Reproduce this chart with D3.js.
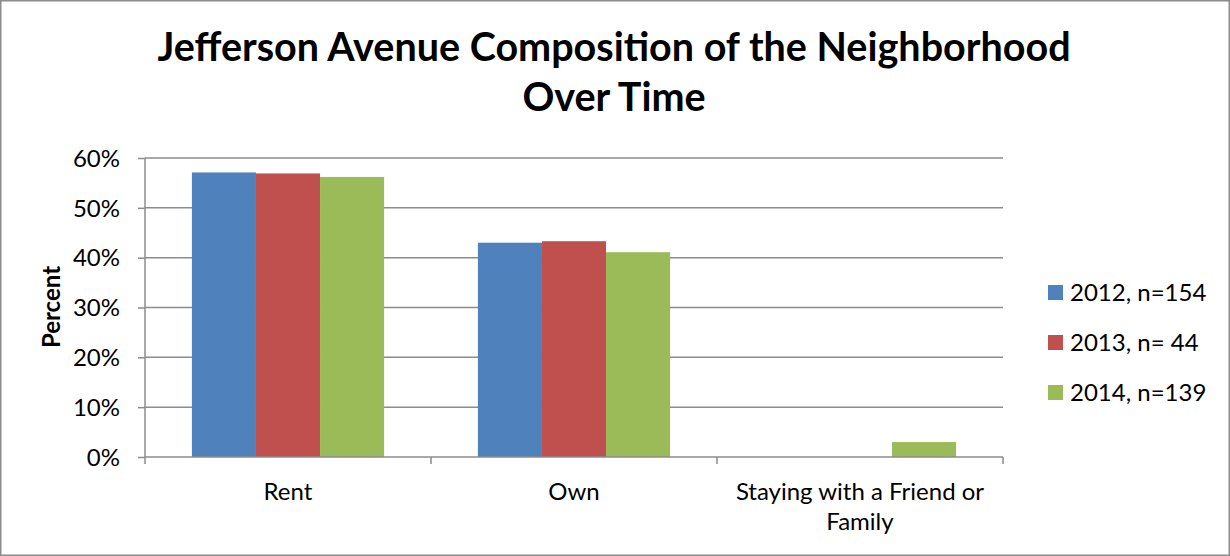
<!DOCTYPE html>
<html><head><meta charset="utf-8">
<script src="https://cdn.jsdelivr.net/npm/d3@7"></script>
<style>body{margin:0;background:#fff;} svg{display:block;font-family:Lato,"Open Sans",sans-serif;}</style>
</head><body>
<svg id="c" width="1230" height="556"></svg>
<script>
const categories = ["Rent", "Own", "Staying with a Friend or Family"];
const series = ["2012, n=154", "2013, n= 44", "2014, n=139"];
const values2012 = [57.1, 43.0, 0];
const values2013 = [56.9, 43.3, 0];
const values2014 = [56.2, 41.1, 3.0];
const yTicks = [0, 10, 20, 30, 40, 50, 60];
const colors = ["#4f81bd", "#c0504d", "#9bbb59"];
const allValues = [values2012, values2013, values2014];

(function(){
const FS = 24;
const svg = d3.select("#c");
svg.append("rect").attr("x",0.75).attr("y",0.75).attr("width",1228.5).attr("height",554.5)
  .attr("fill","#fff").attr("stroke","#8c8c8c").attr("stroke-width",1.5);

const pl = 145, pr = 1003, pt = 158, pb = 457;
const x = d3.scaleBand().domain(categories).range([pl, pr]);
const y = d3.scaleLinear().domain([0, 60]).range([pb, pt]);
const groupW = x.bandwidth() * 0.672;
const xs = d3.scaleBand().domain(series).range([0, groupW]);

// gridlines
svg.append("g").selectAll("line").data(yTicks.filter(d => d > 0)).join("line")
  .attr("x1", pl).attr("x2", pr).attr("y1", d => y(d)).attr("y2", d => y(d))
  .attr("stroke", "#8c8c8c").attr("stroke-width", 1.5);

// bars
series.forEach((s, si) => {
  svg.append("g").selectAll("rect").data(categories.map((c, ci) => ({c, v: allValues[si][ci]})).filter(d => d.v > 0))
    .join("rect")
    .attr("x", d => x(d.c) + (x.bandwidth() - groupW) / 2 + xs(s))
    .attr("width", xs.bandwidth())
    .attr("y", d => y(d.v))
    .attr("height", d => pb - y(d.v))
    .attr("fill", colors[si]);
});

// y axis
const yAxis = d3.axisLeft(y).tickValues(yTicks).tickFormat(d => d + "%").tickSize(7).tickPadding(18);
const gy = svg.append("g").attr("transform", `translate(${pl},0)`).call(yAxis);
gy.select(".domain").attr("stroke", "#8c8c8c").attr("stroke-width", 1.5).attr("d", `M0,${pt}V${pb}`);
gy.selectAll(".tick line").attr("stroke", "#8c8c8c").attr("stroke-width", 1.5);
gy.selectAll(".tick text").attr("font-size", FS).attr("fill", "#000").attr("font-family", "Lato").attr("dy", "0.34em");

// x axis
const gx = svg.append("g").attr("transform", `translate(0,${pb})`);
gx.append("line").attr("x1", pl).attr("x2", pr).attr("stroke", "#8c8c8c").attr("stroke-width", 1.5);
const bounds = categories.map(c => x(c)).concat([pr]);
gx.selectAll("line.t").data(bounds).join("line").attr("class","t")
  .attr("x1", d => d).attr("x2", d => d).attr("y1", 0).attr("y2", 7)
  .attr("stroke", "#8c8c8c").attr("stroke-width", 1.5);
const catLines = {"Rent": ["Rent"], "Own": ["Own"], "Staying with a Friend or Family": ["Staying with a Friend or", "Family"]};
categories.forEach(c => {
  const t = gx.append("text").attr("x", x(c) + x.bandwidth()/2).attr("y", 43)
    .attr("text-anchor", "middle").attr("font-size", FS).attr("fill", "#000");
  catLines[c].forEach((l, i) => t.append("tspan").attr("x", x(c) + x.bandwidth()/2).attr("dy", i ? 30 : 0).text(l));
});

// y title
svg.append("text").attr("transform", "translate(60,307) rotate(-90)").attr("text-anchor", "middle")
  .attr("font-size", FS).attr("font-weight", "bold").text("Percent");

// title
const title = svg.append("text").attr("text-anchor", "middle").attr("font-size", 39.5).attr("font-weight", "bold");
title.append("tspan").attr("x", 614).attr("y", 61).text("Jefferson Avenue Composition of the Neighborhood");
title.append("tspan").attr("x", 614).attr("y", 111).text("Over Time");

// legend
const lg = svg.append("g").selectAll("g").data(series).join("g")
  .attr("transform", (d, i) => `translate(1048,${285 + i * 50})`);
lg.append("rect").attr("width", 15).attr("height", 15).attr("fill", (d, i) => colors[i]);
lg.append("text").attr("x", 22).attr("y", 16).attr("font-size", FS).text(d => d);
})();
</script>
</body></html>
